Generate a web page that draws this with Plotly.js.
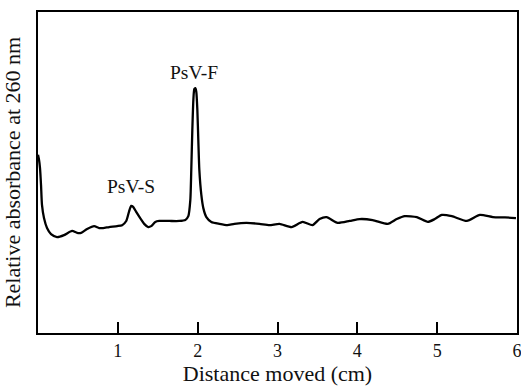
<!DOCTYPE html>
<html>
<head>
<meta charset="utf-8">
<script src="https://cdn.plot.ly/plotly-3.0.1.min.js"></script>
<style>html,body{margin:0;padding:0;background:#fff;}#chart{width:521px;height:386px;}</style>
</head>
<body>
<div id="chart"></div>
<script>
// Distance moved (cm)
const distance = [0, 0.013, 0.025, 0.038, 0.050, 0.075, 0.113, 0.163, 0.238, 0.326, 0.427, 0.490, 0.540, 0.615, 0.703, 0.766, 0.816, 0.891, 0.992, 1.054, 1.105, 1.142, 1.167, 1.192, 1.230, 1.280, 1.330, 1.381, 1.418, 1.469, 1.519, 1.644, 1.770, 1.845, 1.883, 1.908, 1.920, 1.933, 1.946, 1.958, 1.971, 1.983, 1.996, 2.008, 2.021, 2.046, 2.071, 2.109, 2.171, 2.272, 2.372, 2.460, 2.611, 2.774, 2.899, 3.025, 3.176, 3.314, 3.439, 3.527, 3.615, 3.753, 3.904, 4.029, 4.192, 4.381, 4.494, 4.594, 4.745, 4.883, 4.970, 5.058, 5.184, 5.372, 5.535, 5.698, 5.849, 5.987];
// Relative absorbance at 260 nm (arbitrary units, 0-100)
const absorbance = [55.5, 53.9, 51.4, 46.1, 39.9, 35.8, 32.7, 30.8, 29.9, 30.5, 31.8, 31.2, 31.2, 32.4, 33.3, 32.7, 32.7, 33.0, 33.3, 33.6, 34.9, 38.0, 39.6, 39.3, 37.7, 35.8, 34.0, 33.0, 33.3, 34.6, 34.9, 34.9, 34.9, 35.2, 36.4, 41.4, 50.8, 63.2, 72.6, 76.0, 76.3, 75.1, 69.5, 60.1, 50.8, 43.0, 38.9, 36.1, 34.6, 34.0, 33.6, 34.0, 34.3, 34.0, 33.6, 34.0, 33.0, 34.6, 33.6, 35.5, 36.1, 34.3, 34.9, 35.5, 35.2, 34.0, 35.5, 36.4, 36.1, 34.6, 35.5, 36.8, 36.4, 34.9, 36.8, 36.1, 36.0, 35.8];
const tickValues = [1, 2, 3, 4, 5, 6];
const tickLabels = ["1", "2", "3", "4", "5", "6"];
const peakLabels = ["PsV-S", "PsV-F"];
const peakX = [1.167, 1.96];
const peakY = [45.5, 81.3];

const serif = "Liberation Serif, Times New Roman, serif";

const trace = {
  x: distance,
  y: absorbance,
  type: "scatter",
  mode: "lines",
  line: {color: "#000", width: 2.3, shape: "spline", smoothing: 0.6},
  hoverinfo: "skip"
};

const annotations = peakLabels.map((t, i) => ({
  x: peakX[i], y: peakY[i], xref: "x", yref: "y",
  text: t, showarrow: false, xanchor: "center", yanchor: "middle",
  font: {family: serif, size: 19.5, color: "#111"}
}));

const layout = {
  width: 521, height: 386,
  margin: {l: 38, r: 4, t: 12, b: 53, pad: 0},
  paper_bgcolor: "#fff", plot_bgcolor: "#fff",
  showlegend: false,
  font: {family: serif, color: "#111"},
  xaxis: {
    range: [0, 6],
    tickvals: tickValues, ticktext: tickLabels,
    ticks: "inside", ticklen: 11, tickwidth: 2, tickcolor: "#000",
    ticklabeloverflow: "allow",
    showline: true, linecolor: "#000", linewidth: 2, mirror: true,
    showgrid: false, zeroline: false,
    tickfont: {family: serif, size: 18, color: "#111"},
    title: {text: "Distance moved (cm)", font: {family: serif, size: 22, color: "#111"}, standoff: 6},
    automargin: false
  },
  yaxis: {
    range: [0, 100],
    showticklabels: false, ticks: "",
    showline: true, linecolor: "#000", linewidth: 2, mirror: true,
    showgrid: false, zeroline: false,
    title: {text: "Relative absorbance at 260 nm", font: {family: serif, size: 22, color: "#111"}, standoff: 10},
    automargin: false
  },
  annotations: annotations
};

Plotly.newPlot("chart", [trace], layout, {staticPlot: true, displayModeBar: false});
</script>
</body>
</html>
